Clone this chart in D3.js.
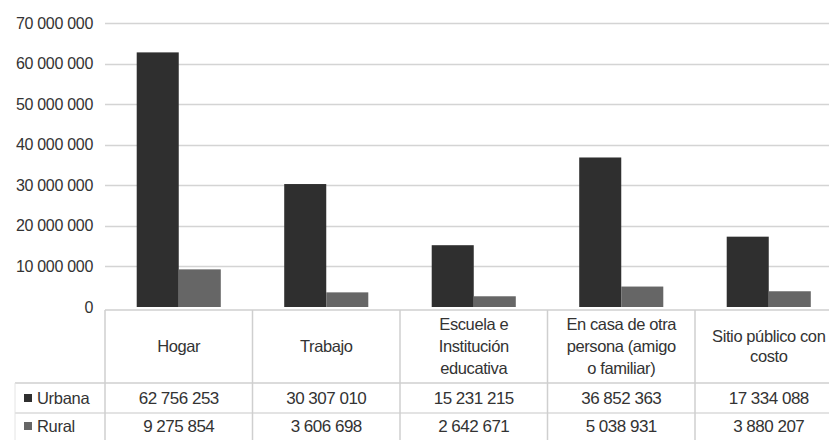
<!DOCTYPE html>
<html>
<head>
<meta charset="utf-8">
<script src="https://cdn.jsdelivr.net/npm/d3@7"></script>
<style>
  html, body { margin: 0; padding: 0; background: #fff; }
  svg { display: block; font-family: "Liberation Sans", Arial, sans-serif; }
</style>
</head>
<body>
<svg id="chart" width="829" height="440"></svg>
<script>
// Lugares de uso, por área
const categories = [
  ["Hogar"],
  ["Trabajo"],
  ["Escuela e", "Institución", "educativa"],
  ["En casa de otra", "persona (amigo", "o familiar)"],
  ["Sitio público con", "costo"]
];
const seriesNames = ["Urbana", "Rural"];
const urbana = [62756253, 30307010, 15231215, 36852363, 17334088];
const rural = [9275854, 3606698, 2642671, 5038931, 3880207];
const yTicks = [0, 10000000, 20000000, 30000000, 40000000, 50000000, 60000000, 70000000];

const seriesValues = [urbana, rural];
const colors = ["#2f2f2f", "#666666"];
const textColor = "#333333";
const lineColor = "#cfcfcf";

const svg = d3.select("#chart");
const catKeys = categories.map((c, i) => i);

const x = d3.scaleBand().domain(catKeys).range([105, 842.5]).paddingInner(0).paddingOuter(0);
const bw = x.bandwidth();
const x1 = d3.scaleBand().domain(seriesNames).range([bw * 0.215, bw * 0.785]).padding(0);
const y = d3.scaleLinear().domain([0, 70000000]).range([307, 23]);

const fmt = v => d3.format(",")(v).replace(/,/g, " ");

// horizontal gridlines
svg.append("g")
  .selectAll("line")
  .data(yTicks.filter(t => t > 0))
  .join("line")
  .attr("x1", 105).attr("x2", 829)
  .attr("y1", d => Math.round(y(d)) + 0.5).attr("y2", d => Math.round(y(d)) + 0.5)
  .attr("stroke", "#d4d4d4").attr("stroke-width", 1.6);

// y-axis labels
const yAxis = d3.axisLeft(y).tickValues(yTicks).tickSize(0).tickPadding(0).tickFormat(fmt);
svg.append("g")
  .attr("transform", "translate(93,0)")
  .call(yAxis)
  .call(g => g.select(".domain").remove())
  .call(g => g.selectAll("text")
    .attr("fill", textColor)
    .style("font-size", "16px")
    .style("letter-spacing", "-0.3px"));

// bars
const groups = svg.append("g")
  .selectAll("g")
  .data(catKeys)
  .join("g")
  .attr("transform", d => `translate(${x(d)},0)`);

groups.selectAll("rect")
  .data(i => seriesNames.map((s, k) => ({ s, k, v: seriesValues[k][i] })))
  .join("rect")
  .attr("x", d => x1(d.s))
  .attr("width", x1.bandwidth())
  .attr("y", d => y(d.v))
  .attr("height", d => y(0) - y(d.v))
  .attr("fill", d => colors[d.k]);

// data table beneath the plot
const tableTop = 310, headerBottom = 383, row1Bottom = 413, row2Bottom = 443;
const t = svg.append("g");

// horizontal rules
t.append("line").attr("x1", 105).attr("x2", 829).attr("y1", tableTop).attr("y2", tableTop)
  .attr("stroke", lineColor).attr("stroke-width", 1.5);
t.append("line").attr("x1", 15).attr("x2", 829).attr("y1", headerBottom).attr("y2", headerBottom)
  .attr("stroke", lineColor).attr("stroke-width", 1.5);
t.append("line").attr("x1", 15).attr("x2", 829).attr("y1", row1Bottom).attr("y2", row1Bottom)
  .attr("stroke", "#dadada").attr("stroke-width", 1.5);

// vertical rules
t.selectAll("line.v")
  .data(catKeys)
  .join("line")
  .attr("class", "v")
  .attr("x1", d => x(d)).attr("x2", d => x(d))
  .attr("y1", tableTop).attr("y2", 440)
  .attr("stroke", lineColor).attr("stroke-width", 1.5);
t.append("line").attr("x1", 15).attr("x2", 15).attr("y1", headerBottom).attr("y2", 440)
  .attr("stroke", "#e4e4e4").attr("stroke-width", 1);

// category headers
const headerMid = (tableTop + headerBottom) / 2;
t.selectAll("text.cat")
  .data(catKeys)
  .join("text")
  .attr("class", "cat")
  .attr("text-anchor", "middle")
  .attr("fill", textColor)
  .style("font-size", "16.5px")
  .style("letter-spacing", "-0.4px")
  .each(function (i) {
    const lines = categories[i];
    const n = lines.length;
    const pitch = n === 2 ? 20 : 22;
    d3.select(this).selectAll("tspan")
      .data(lines)
      .join("tspan")
      .attr("x", x(i) + bw / 2)
      .attr("y", (d, j) => headerMid + (j - (n - 1) / 2) * pitch)
      .attr("dy", "0.35em")
      .text(d => d);
  });

// rows: legend key, name and values
const rowMids = [398, 426];
seriesNames.forEach((name, k) => {
  const cy = rowMids[k];
  t.append("rect")
    .attr("x", 24).attr("y", cy - 4).attr("width", 8).attr("height", 8)
    .attr("fill", colors[k]);
  t.append("text")
    .attr("x", 37).attr("y", cy).attr("dy", "0.35em")
    .attr("fill", textColor)
    .style("font-size", "16.5px")
    .style("letter-spacing", "-0.3px")
    .text(name);
  t.selectAll(null)
    .data(seriesValues[k])
    .join("text")
    .attr("x", (d, i) => x(i) + bw / 2)
    .attr("y", cy).attr("dy", "0.35em")
    .attr("text-anchor", "middle")
    .attr("fill", textColor)
    .style("font-size", "17px")
    .style("letter-spacing", "-0.5px")
    .text(d => fmt(d));
});
</script>
</body>
</html>
